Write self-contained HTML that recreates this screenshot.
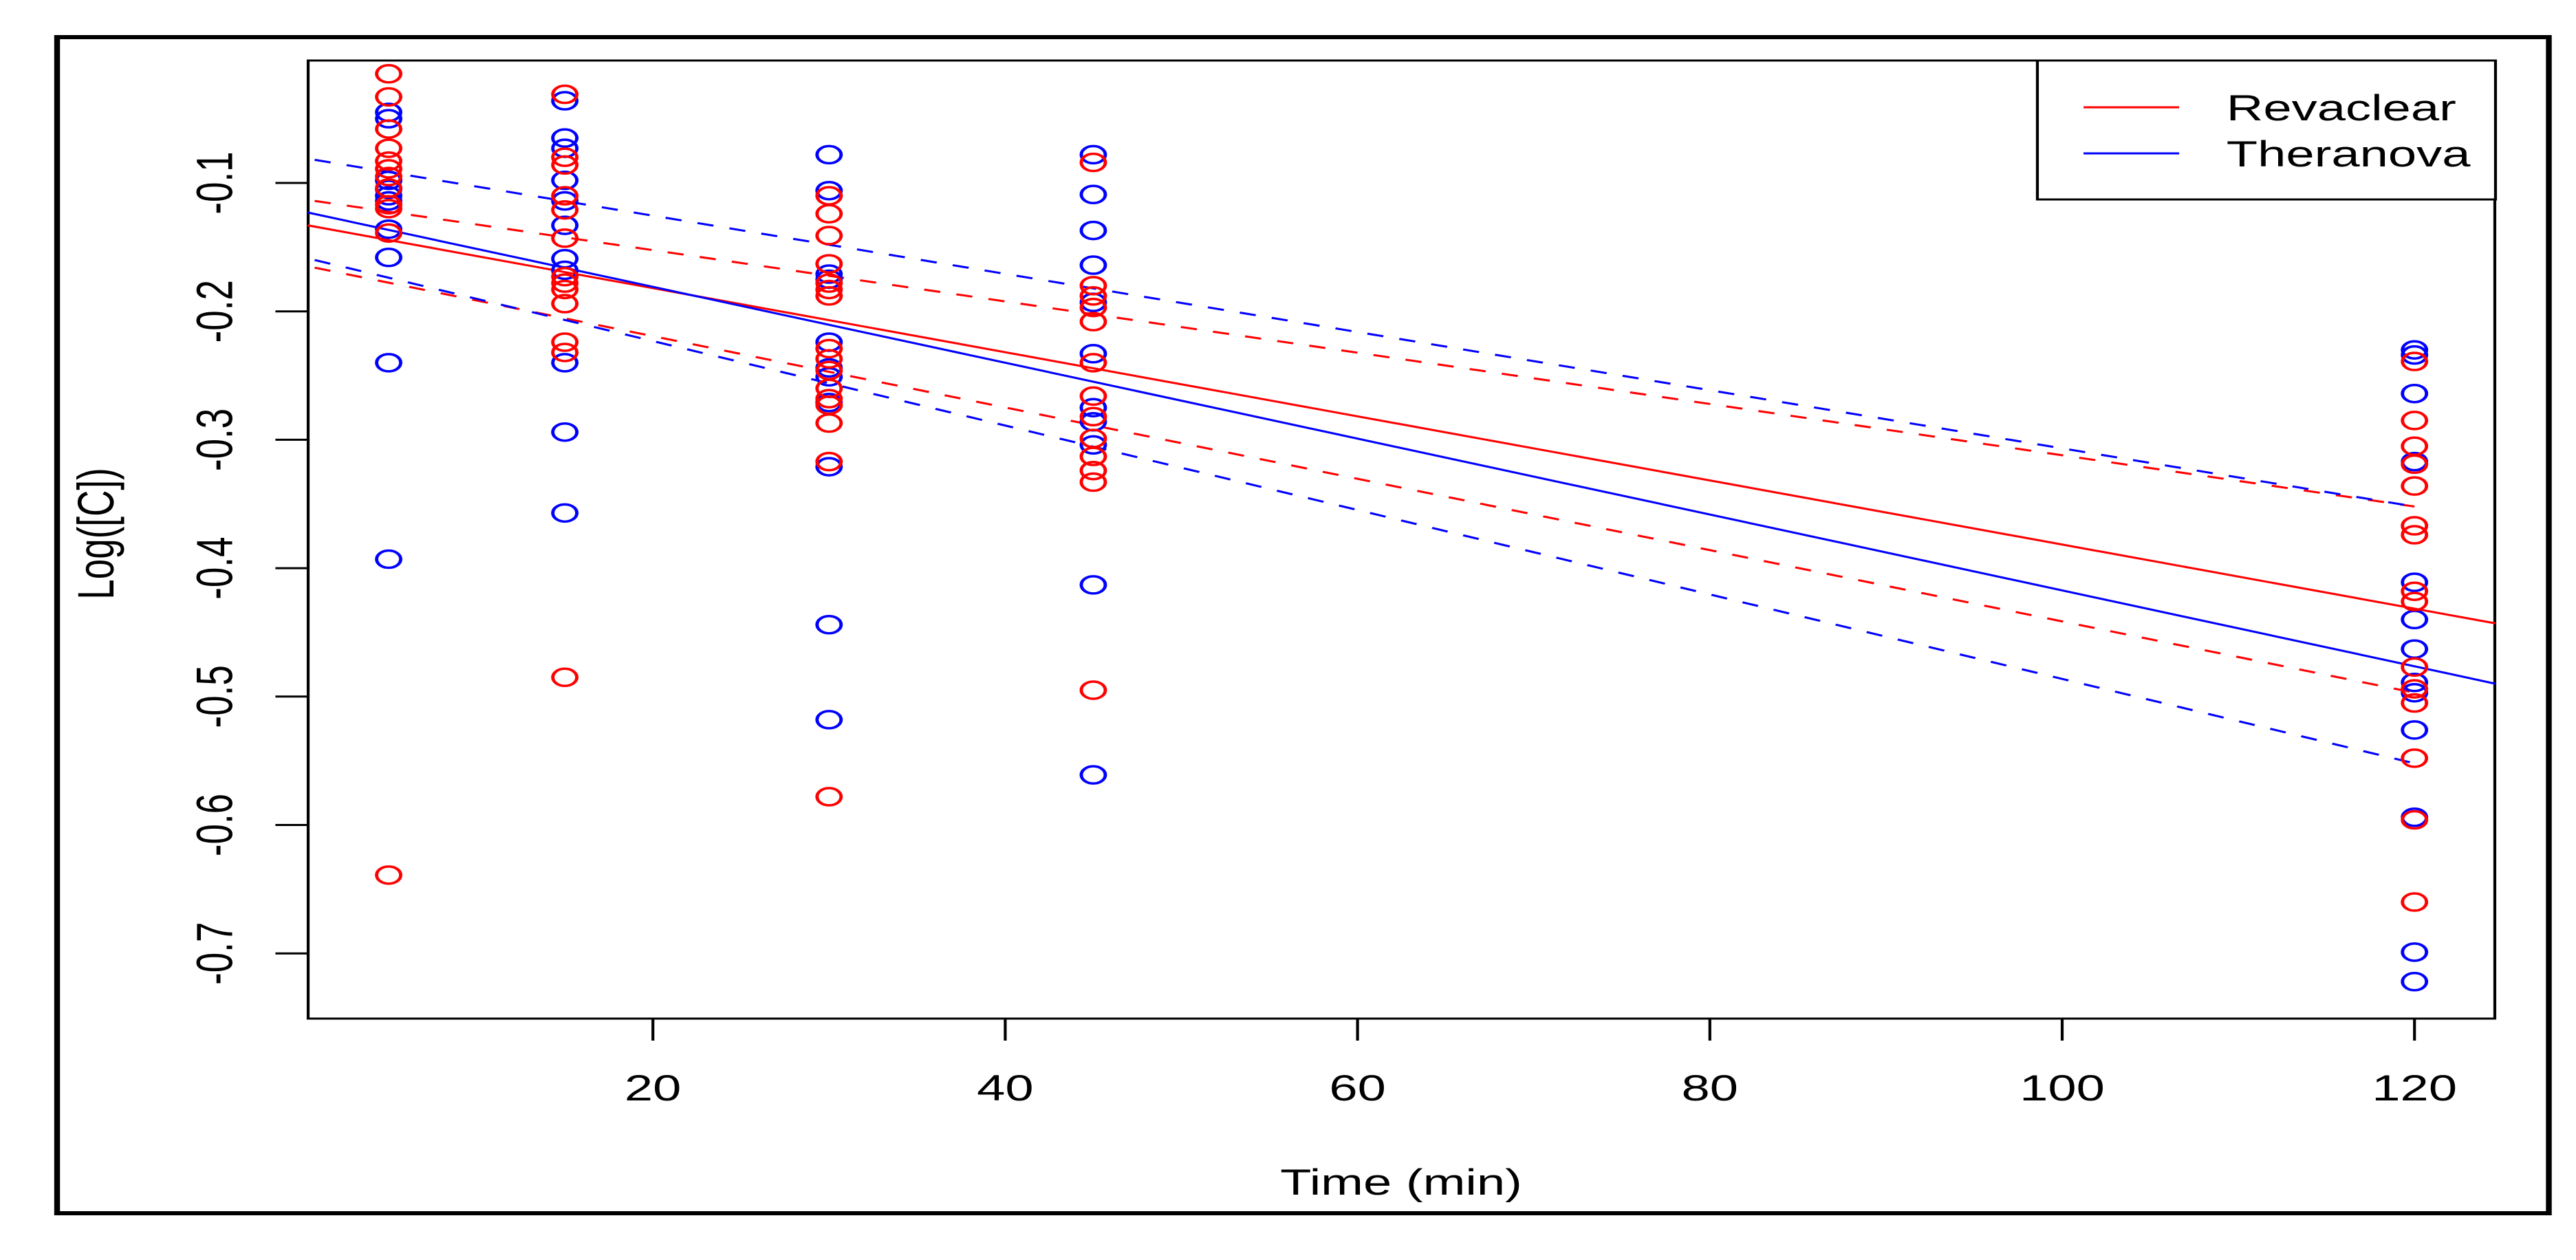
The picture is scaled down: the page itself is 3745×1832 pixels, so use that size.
<!DOCTYPE html>
<html><head><meta charset="utf-8"><style>
html,body{margin:0;padding:0;background:#fff;}
svg{display:block;}
text{font-family:"Liberation Sans",Arial,sans-serif;fill:#000;}
</style></head><body>
<svg id="chart" width="3745" height="1832" viewBox="0 0 2675 1832" preserveAspectRatio="none" xmlns="http://www.w3.org/2000/svg">
<rect x="59.3" y="54" width="2587.5" height="1710" fill="none" stroke="#000" stroke-width="6"/>
<rect x="320" y="88" width="2270.7" height="1393" fill="none" stroke="#000" stroke-width="3"/>
<g id="axes"></g>
<g id="fits"></g>
<g id="points"></g>
<text x="1455" y="1737" font-size="53" text-anchor="middle">Time (min)</text>
<text transform="translate(118,776) rotate(-90)" font-size="53" text-anchor="middle">Log([C])</text>
<g>
<rect x="2115.7" y="88" width="475.7" height="202" fill="#fff" stroke="#000" stroke-width="3"/>
<line x1="2163.6" y1="156" x2="2262.9" y2="156" stroke="#ff0000" stroke-width="3"/>
<line x1="2163.6" y1="223" x2="2262.9" y2="223" stroke="#0000ff" stroke-width="3"/>
<text x="2312" y="175" font-size="53">Revaclear</text>
<text x="2312" y="242" font-size="53">Theranova</text>
</g>
</svg>
<script>
const xTicks=[20,40,60,80,100,120];
const yTicks=[-0.1,-0.2,-0.3,-0.4,-0.5,-0.6,-0.7];
const yTickLabels=["-0.1","-0.2","-0.3","-0.4","-0.5","-0.6","-0.7"];
const times=[5,15,30,45,120];
const revaclearValues=[
 [-0.015,-0.033,-0.058,-0.073,-0.083,-0.089,-0.095,-0.104,-0.117,-0.120,-0.139,-0.639],
 [-0.031,-0.080,-0.086,-0.110,-0.121,-0.143,-0.173,-0.178,-0.183,-0.194,-0.224,-0.232,-0.485],
 [-0.110,-0.124,-0.141,-0.163,-0.178,-0.183,-0.188,-0.229,-0.237,-0.246,-0.260,-0.268,-0.273,-0.287,-0.317,-0.578],
 [-0.084,-0.180,-0.188,-0.197,-0.208,-0.240,-0.266,-0.282,-0.299,-0.313,-0.324,-0.333,-0.495],
 [-0.239,-0.285,-0.305,-0.319,-0.336,-0.367,-0.374,-0.418,-0.426,-0.477,-0.494,-0.505,-0.548,-0.596,-0.660]
];
const theranovaValues=[
 [-0.045,-0.050,-0.098,-0.105,-0.110,-0.114,-0.136,-0.158,-0.240,-0.393],
 [-0.036,-0.065,-0.073,-0.098,-0.114,-0.133,-0.159,-0.168,-0.240,-0.294,-0.357],
 [-0.078,-0.106,-0.171,-0.175,-0.224,-0.244,-0.251,-0.271,-0.321,-0.444,-0.518],
 [-0.078,-0.109,-0.137,-0.164,-0.193,-0.233,-0.275,-0.286,-0.304,-0.413,-0.561],
 [-0.230,-0.234,-0.264,-0.317,-0.411,-0.440,-0.463,-0.489,-0.497,-0.526,-0.594,-0.699,-0.722]
];
// fit lines: [x-start, x-end, value-start, value-end]
const revaclearFit=[0.4,124.6,-0.133,-0.443];
const revaclearUpper=[0.8,120,-0.114,-0.352];
const revaclearLower=[0.8,120,-0.166,-0.497];
const theranovaFit=[0.4,124.6,-0.123,-0.490];
const theranovaUpper=[0.8,120,-0.082,-0.352];
const theranovaLower=[0.8,120,-0.160,-0.552];

const K=1.4;
function X(t){return (437+t*25.61)/K;}
function Y(v){return 266+(-0.1-v)*1867;}
const NS="http://www.w3.org/2000/svg";
function mk(tag,attrs,parent){const e=document.createElementNS(NS,tag);for(const k in attrs)e.setAttribute(k,attrs[k]);parent.appendChild(e);return e;}
const axes=document.getElementById('axes');
xTicks.forEach(t=>{
 const l=mk('line',{x1:X(t),x2:X(t),y1:1481,y2:1513,stroke:'#000','stroke-width':3},axes);
 
 
 const tx=mk('text',{x:X(t),y:1600,'font-size':53,'text-anchor':'middle'},axes);
 tx.textContent=String(t);
 
 
});
yTicks.forEach((v,i)=>{
 const l=mk('line',{x1:320,x2:286,y1:Y(v),y2:Y(v),stroke:'#000','stroke-width':3},axes);
 
 
 const tx=mk('text',{transform:`translate(241,${Y(v)}) rotate(-90)`,'font-size':53,'text-anchor':'middle'},axes);
 tx.textContent=yTickLabels[i];
 
 
});
const fits=document.getElementById('fits');
function fitLine(a,color,dashed,name){
 const l=mk('line',{x1:X(a[0]),x2:X(a[1]),y1:Y(a[2]),y2:Y(a[3]),stroke:color,'stroke-width':3},fits);
 if(dashed)l.setAttribute('stroke-dasharray','17 17');
 
 
}
fitLine(revaclearUpper,'#ff0000',true,'revaclear-ci-upper');
fitLine(revaclearLower,'#ff0000',true,'revaclear-ci-lower');
fitLine(theranovaUpper,'#0000ff',true,'theranova-ci-upper');
fitLine(theranovaLower,'#0000ff',true,'theranova-ci-lower');
fitLine(revaclearFit,'#ff0000',false,'revaclear-fit-line');
fitLine(theranovaFit,'#0000ff',false,'theranova-fit-line');
const pts=document.getElementById('points');
function drawPts(vals,color,name){
 vals.forEach((arr,i)=>arr.forEach(v=>{
  const c=mk('circle',{cx:X(times[i]),cy:Y(v),r:12.5,fill:'none',stroke:color,'stroke-width':3.5},pts);
  
  
 }));
}
drawPts(theranovaValues,'#0000ff','theranova-point');
drawPts(revaclearValues,'#ff0000','revaclear-point');
</script>
</body></html>
